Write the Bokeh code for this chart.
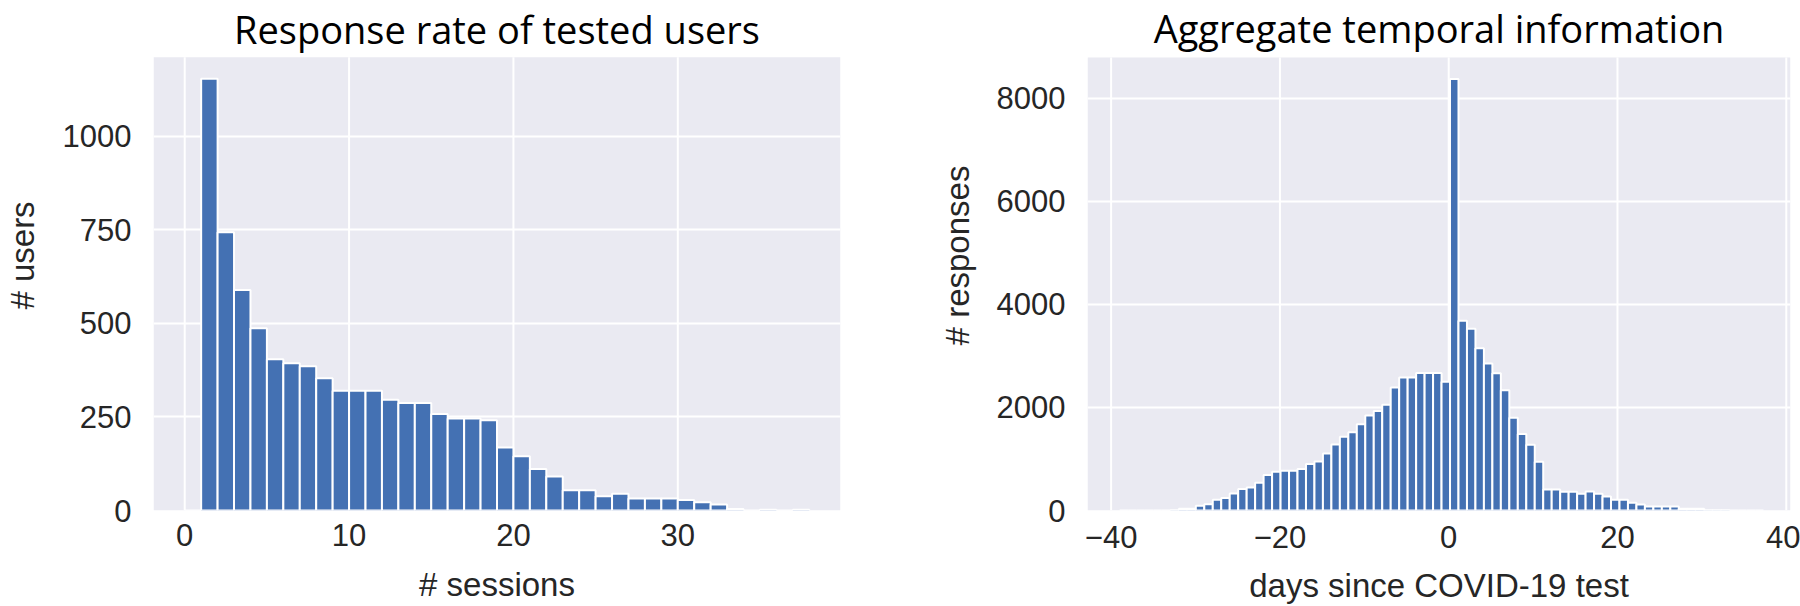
from bokeh.plotting import figure
from bokeh.layouts import row
from bokeh.models import FixedTicker, Range1d
from bokeh.embed import file_html
from bokeh.resources import INLINE
from bokeh.core.properties import value

# ---------------- data ----------------
left_title = "Response rate of tested users"
left_xlabel = "# sessions"
left_ylabel = "# users"
left_bin_start = 0.0
left_bin_width = 1.0
left_counts = [0, 1153, 743, 589, 487, 404, 393, 385, 353, 320, 320, 320, 296,
               287, 287, 258, 246, 246, 241, 168, 145, 111, 91, 54, 54, 38, 45,
               32, 32, 32, 28, 22, 16, 4, 0, 2, 0, 2]
left_xticks = [0, 10, 20, 30]
left_yticks = [0, 250, 500, 750, 1000]

right_title = "Aggregate temporal information"
right_xlabel = "days since COVID-19 test"
right_ylabel = "# responses"
right_bin_start = -39.0
right_bin_width = 1.004
right_counts = [0, 0, 0, 0, 0, 0, 5, 33, 33, 90, 123, 210, 243, 330, 415, 447,
                538, 690, 750, 773, 773, 806, 900, 950, 1108, 1280, 1432, 1516,
                1672, 1843, 1928, 2050, 2385, 2580, 2580, 2665, 2665, 2665, 2500,
                8370, 3681, 3525, 3149, 2851, 2663, 2333, 1801, 1484, 1277, 946,
                408, 408, 363, 363, 324, 369, 324, 272, 207, 207, 149, 117, 78,
                78, 78, 78, 32, 32, 32, 5, 5, 3, 0, 0, 0, 0]
right_xticks = [-40, -20, 0, 20, 40]
right_yticks = [0, 2000, 4000, 6000, 8000]
minus_labels = {-40: "\u221240", -20: "\u221220"}

BAR = "#4471B3"
BG = "#EAEAF2"
TXT = "#262626"
TICK_FONT = "Liberation Sans"
FIG_H = 606


def make_panel(title, xlabel, ylabel, start, width, counts, xticks, yticks,
               x_range, fig_w, b_left, b_right, area_top, b_bottom,
               tick_standoff_x, label_standoff_x, tick_standoff_y, label_standoff_y,
               overrides=None):
    lefts = [start + i * width for i in range(len(counts))]
    rights = [l + width for l in lefts]
    ymax = max(counts) * 1.05
    frame_h = FIG_H - b_bottom
    ytop = ymax * frame_h / (frame_h - area_top)
    p = figure(width=fig_w, height=FIG_H, x_range=Range1d(*x_range),
               y_range=Range1d(0, ytop),
               output_backend="svg", toolbar_location=None,
               min_border_left=b_left, min_border_right=b_right,
               min_border_top=0, min_border_bottom=b_bottom)
    p.background_fill_color = "white"
    p.border_fill_color = "white"
    p.outline_line_color = None
    # plot-area background (seaborn darkgrid)
    p.quad(left=[x_range[0]], right=[x_range[1]], bottom=[0], top=[ymax],
           fill_color=BG, line_color=None, level="image")
    # grid
    p.xgrid.visible = False
    p.segment(x0=xticks, y0=0, x1=xticks, y1=ymax, line_color="white",
              line_width=2, level="underlay")
    p.ygrid.grid_line_color = "white"
    p.ygrid.grid_line_width = 2
    # bars
    p.quad(left=lefts, right=rights, bottom=0, top=counts,
           fill_color=BAR, line_color="white", line_width=2)
    p.xaxis.ticker = FixedTicker(ticks=xticks)
    p.yaxis.ticker = FixedTicker(ticks=yticks)
    p.yaxis.bounds = (0, ymax)
    if overrides:
        p.xaxis.major_label_overrides = overrides
    for ax in (p.xaxis, p.yaxis):
        ax.axis_line_color = None
        ax.major_tick_line_color = None
        ax.minor_tick_line_color = None
        ax.major_tick_out = 0
        ax.major_tick_in = 0
        ax.major_label_text_font = TICK_FONT
        ax.major_label_text_font_size = "31px"
        ax.major_label_text_color = TXT
        ax.axis_label_text_font = TICK_FONT
        ax.axis_label_text_font_size = "33px"
        ax.axis_label_text_font_style = "normal"
        ax.axis_label_text_color = TXT
    p.xaxis.axis_label = xlabel
    p.yaxis.axis_label = ylabel
    p.xaxis.major_label_standoff = tick_standoff_x
    p.xaxis.axis_label_standoff = label_standoff_x
    p.yaxis.major_label_standoff = tick_standoff_y
    p.yaxis.axis_label_standoff = label_standoff_y
    # title: top of its text box just inside the top of the canvas
    ty = ytop * (1 - 2.0 / frame_h)
    p.text(x=[(x_range[0] + x_range[1]) / 2], y=[ty], text=[title],
           text_font=value("Open Sans"), text_font_size=value("38px"),
           text_align="center", text_baseline="top", text_color="black")
    return p


left = make_panel(left_title, left_xlabel, left_ylabel, left_bin_start,
                  left_bin_width, left_counts, left_xticks, left_yticks,
                  (-1.9, 39.9), 900, 140, 60, 56.7, 96, 13, 17, 22, 19)
right = make_panel(right_title, right_xlabel, right_ylabel, right_bin_start,
                   right_bin_width, right_counts, right_xticks, right_yticks,
                   (-42.8, 40.5), 900, 187, 10, 57.3, 93, 15, 16, 22, 18,
                   overrides=minus_labels)

layout = row(left, right)
open("out.html", "w").write(file_html(layout, INLINE))
